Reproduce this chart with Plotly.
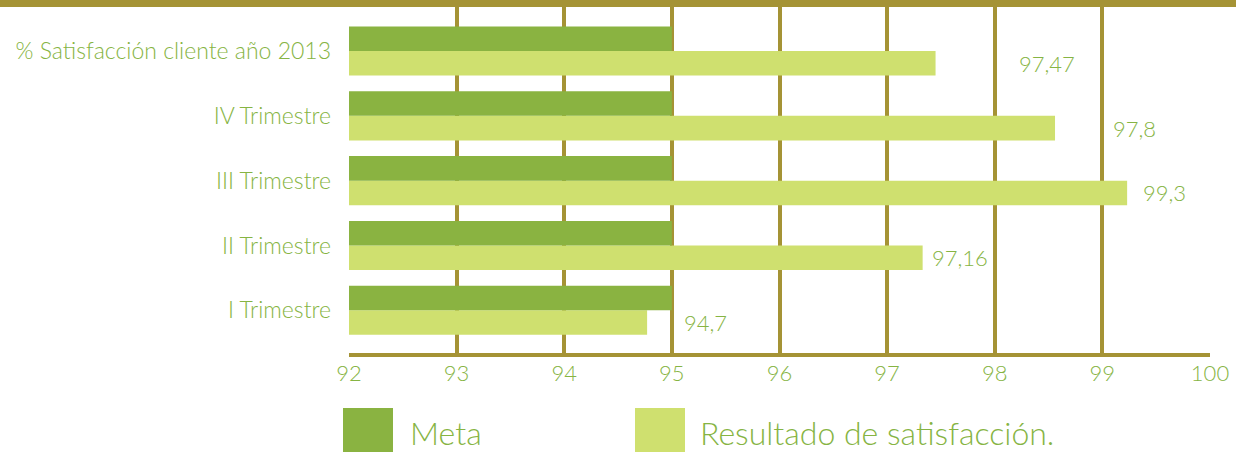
import plotly.graph_objects as go

categories = ["I Trimestre", "II Trimestre", "III Trimestre", "IV Trimestre",
              "% Satisfacción cliente año 2013"]
meta_values = [95, 95, 95, 95, 95]
resultado_values = [94.77, 97.33, 99.23, 98.56, 97.45]
resultado_labels = ["94,7", "97,16", "99,3", "97,8", "97,47"]
series_names = ["Meta", "Resultado de satisfacción."]
x_ticks = [92, 93, 94, 95, 96, 97, 98, 99, 100]

# styling
C_META = "#8ab341"
C_RES = "#cfe06f"
C_GRID = "#a59335"
C_TEXT = "#86b443"
FONT = "Lato"
FW = 300
label_xshift = [35, 7, 14, 56, 81]  # pixel offsets of value labels

W, H = 1236, 452
ML, MR, MT, MB = 349, 26, 7, 99
pw = W - ML - MR
ph = H - MT - MB

fig = go.Figure()
# Resultado first so it sits below Meta in each group
fig.add_trace(go.Bar(y=categories, x=resultado_values, orientation="h",
                     name=series_names[1], marker=dict(color=C_RES, line=dict(width=0)),
                     showlegend=False))
fig.add_trace(go.Bar(y=categories, x=meta_values, orientation="h",
                     name=series_names[0], marker=dict(color=C_META, line=dict(width=0)),
                     showlegend=False))

bargap = 0.243
bar_w = (1 - bargap) / 2
cat_px = ph / (4.68 + 0.66)
yshift = -bar_w / 2 * cat_px

for c, v, t, dx in zip(categories, resultado_values, resultado_labels, label_xshift):
    fig.add_annotation(x=v, y=c, text=t, showarrow=False, xanchor="left",
                       xshift=dx, yshift=yshift,
                       font=dict(family=FONT, size=22, color=C_TEXT, weight=FW))

# top border band
fig.add_shape(type="rect", xref="paper", yref="paper",
              x0=-ML / pw, x1=(W - ML) / pw, y0=1, y1=1 + MT / ph + 0.01,
              fillcolor=C_GRID, line=dict(width=0), layer="above")

# custom legend
def px_to_paper_x(px):
    return (px - ML) / pw

def py_to_paper_y(py):
    return (MT + ph - py) / ph

legend_items = [(series_names[0], C_META, 343, 408), (series_names[1], C_RES, 635, 698)]
for name, col, sx, tx in legend_items:
    fig.add_shape(type="rect", xref="paper", yref="paper",
                  x0=px_to_paper_x(sx), x1=px_to_paper_x(sx + 50),
                  y0=py_to_paper_y(452), y1=py_to_paper_y(408),
                  fillcolor=col, line=dict(width=0))
    fig.add_annotation(xref="paper", yref="paper", x=px_to_paper_x(tx),
                       y=py_to_paper_y(433), text=name, showarrow=False,
                       xanchor="left", yanchor="middle",
                       font=dict(family=FONT, size=32, color=C_TEXT, weight=FW))

fig.update_layout(
    width=W, height=H,
    margin=dict(l=ML, r=MR, t=MT, b=MB),
    paper_bgcolor="white", plot_bgcolor="white",
    barmode="group", bargap=bargap, bargroupgap=0,
    font=dict(family=FONT, color=C_TEXT, size=20, weight=FW),
    xaxis=dict(range=[92, 100], tickvals=x_ticks, ticktext=[str(v) for v in x_ticks],
               showgrid=True, gridcolor=C_GRID, gridwidth=4,
               showline=True, linecolor=C_GRID, linewidth=4,
               zeroline=False, ticks="", ticklabelstandoff=-2,
               tickfont=dict(family=FONT, size=22, color=C_TEXT, weight=FW), fixedrange=True),
    yaxis=dict(categoryorder="array", categoryarray=categories,
               range=[-0.66, 4.68], showgrid=False, zeroline=False,
               showline=False, ticks="", ticklabelstandoff=17,
               tickfont=dict(family=FONT, size=23, color=C_TEXT, weight=FW), fixedrange=True),
)

fig.write_html("out.html", config={"displayModeBar": False},
               post_script="document.body.style.margin='0';document.body.style.overflow='hidden';")
